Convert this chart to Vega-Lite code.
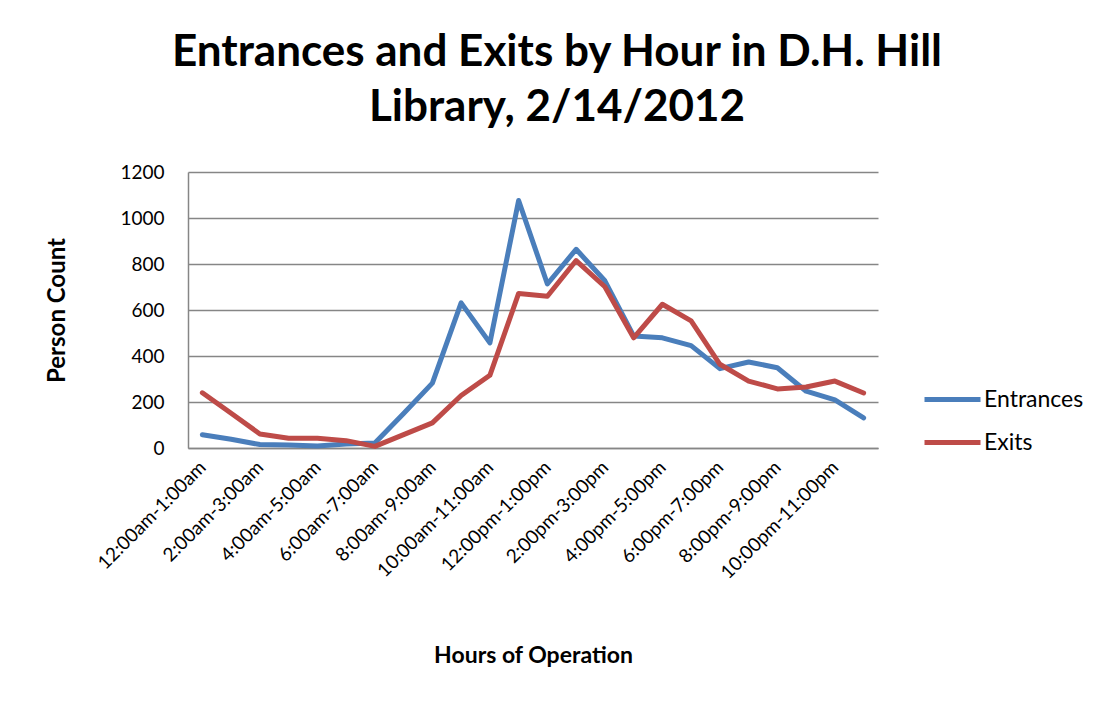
{
  "$schema": "https://vega.github.io/schema/vega-lite/v6.json",
  "width": 690,
  "height": 276,
  "autosize": {"type": "none"},
  "padding": {"left": 188, "top": 172, "right": 235, "bottom": 254},
  "background": "white",
  "title": {
    "text": ["Entrances and Exits by Hour in D.H. Hill", "Library, 2/14/2012"],
    "font": "Lato",
    "fontSize": 44,
    "fontWeight": "bold",
    "color": "black",
    "anchor": "middle",
    "dx": 24,
    "offset": 33,
    "lineHeight": 55
  },
  "data": {
    "values": [
      {"hour": "12:00am-1:00am", "Entrances": 58, "Exits": 240},
      {"hour": "1:00am-2:00am", "Entrances": 38, "Exits": 151},
      {"hour": "2:00am-3:00am", "Entrances": 15, "Exits": 61},
      {"hour": "3:00am-4:00am", "Entrances": 13, "Exits": 42},
      {"hour": "4:00am-5:00am", "Entrances": 9, "Exits": 42},
      {"hour": "5:00am-6:00am", "Entrances": 17, "Exits": 32},
      {"hour": "6:00am-7:00am", "Entrances": 22, "Exits": 7},
      {"hour": "7:00am-8:00am", "Entrances": 150, "Exits": 58},
      {"hour": "8:00am-9:00am", "Entrances": 282, "Exits": 109},
      {"hour": "9:00am-10:00am", "Entrances": 631, "Exits": 228},
      {"hour": "10:00am-11:00am", "Entrances": 457, "Exits": 316},
      {"hour": "11:00am-12:00pm", "Entrances": 1076, "Exits": 672},
      {"hour": "12:00pm-1:00pm", "Entrances": 713, "Exits": 660},
      {"hour": "1:00pm-2:00pm", "Entrances": 864, "Exits": 815},
      {"hour": "2:00pm-3:00pm", "Entrances": 727, "Exits": 701},
      {"hour": "3:00pm-4:00pm", "Entrances": 487, "Exits": 479},
      {"hour": "4:00pm-5:00pm", "Entrances": 479, "Exits": 625},
      {"hour": "5:00pm-6:00pm", "Entrances": 445, "Exits": 553},
      {"hour": "6:00pm-7:00pm", "Entrances": 345, "Exits": 364},
      {"hour": "7:00pm-8:00pm", "Entrances": 374, "Exits": 291},
      {"hour": "8:00pm-9:00pm", "Entrances": 349, "Exits": 257},
      {"hour": "9:00pm-10:00pm", "Entrances": 247, "Exits": 265},
      {"hour": "10:00pm-11:00pm", "Entrances": 209, "Exits": 291},
      {"hour": "11:00pm-12:00am", "Entrances": 131, "Exits": 239}
    ]
  },
  "transform": [{"fold": ["Entrances", "Exits"], "as": ["series", "count"]}],
  "mark": {"type": "line", "strokeWidth": 5, "strokeJoin": "round", "strokeCap": "round"},
  "encoding": {
    "x": {
      "field": "hour",
      "type": "nominal",
      "sort": null,
      "scale": {"type": "point", "padding": 0.5},
      "axis": {
        "title": "Hours of Operation",
        "values": ["12:00am-1:00am", "2:00am-3:00am", "4:00am-5:00am", "6:00am-7:00am", "8:00am-9:00am", "10:00am-11:00am", "12:00pm-1:00pm", "2:00pm-3:00pm", "4:00pm-5:00pm", "6:00pm-7:00pm", "8:00pm-9:00pm", "10:00pm-11:00pm"],
        "labelAngle": -45,
        "labelAlign": "right",
        "labelBaseline": "middle",
        "labelPadding": 16,
        "labelFontSize": 19,
        "ticks": false,
        "grid": false,
        "domainColor": "#868686",
        "domainWidth": 1.5,
        "titleFontSize": 23,
        "titlePadding": 62
      }
    },
    "y": {
      "field": "count",
      "type": "quantitative",
      "scale": {"domain": [0, 1200]},
      "axis": {
        "title": "Person Count",
        "values": [0, 200, 400, 600, 800, 1000, 1200],
        "format": "d",
        "ticks": false,
        "labelPadding": 24,
        "labelFontSize": 19,
        "domainColor": "#868686",
        "domainWidth": 1.5,
        "grid": true,
        "gridColor": "#868686",
        "gridWidth": 1.5,
        "titleFontSize": 24,
        "titlePadding": 50
      }
    },
    "color": {
      "field": "series",
      "type": "nominal",
      "scale": {"domain": ["Entrances", "Exits"], "range": ["#4A7EBB", "#BE4B48"]},
      "legend": {
        "title": null,
        "orient": "none",
        "legendX": 734,
        "legendY": 197,
        "symbolType": "stroke",
        "symbolSize": 3136,
        "symbolStrokeWidth": 5,
        "labelFontSize": 23,
        "labelOffset": 1,
        "rowPadding": -5
      }
    }
  },
  "config": {
    "font": "Lato",
    "view": {"stroke": null},
    "axis": {
      "labelFont": "Lato",
      "labelColor": "black",
      "titleFont": "Lato",
      "titleFontWeight": "bold",
      "titleColor": "black"
    },
    "legend": {"labelFont": "Lato", "labelColor": "black"}
  }
}
